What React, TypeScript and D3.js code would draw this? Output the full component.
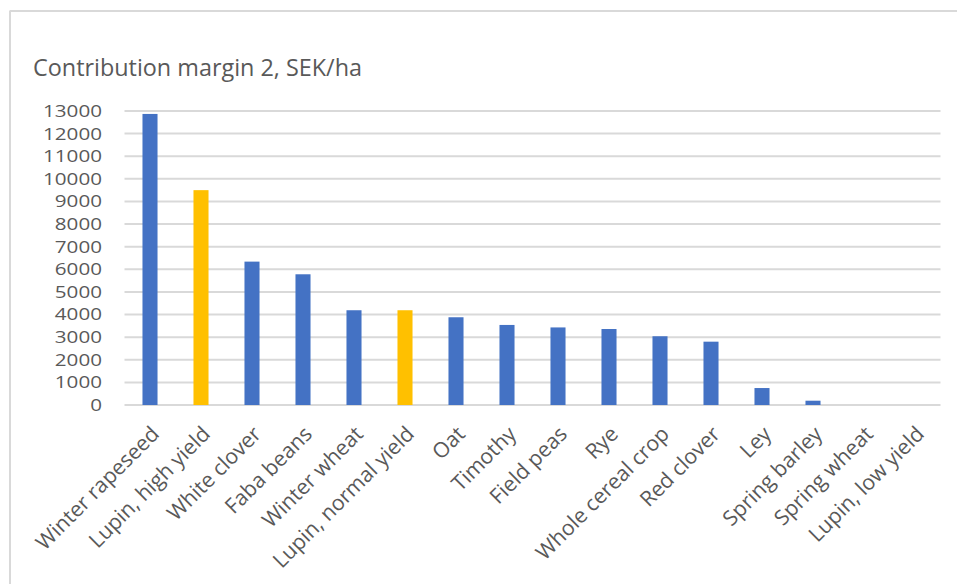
import React from "react";
import * as d3 from "d3";

const categories = [
  "Winter rapeseed",
  "Lupin, high yield",
  "White clover",
  "Faba beans",
  "Winter wheat",
  "Lupin, normal yield",
  "Oat",
  "Timothy",
  "Field peas",
  "Rye",
  "Whole cereal crop",
  "Red clover",
  "Ley",
  "Spring barley",
  "Spring wheat",
  "Lupin, low yield",
];
const values = [12870, 9500, 6340, 5780, 4190, 4190, 3880, 3540, 3430, 3360, 3040, 2800, 750, 190, 0, 0];
const highlighted = ["Lupin, high yield", "Lupin, normal yield", "Lupin, low yield"];
const yTicks = [0, 1000, 2000, 3000, 4000, 5000, 6000, 7000, 8000, 9000, 10000, 11000, 12000, 13000];
const title = "Contribution margin 2, SEK/ha";

const W = 957;
const H = 584;
const FONT = "'Open Sans', 'Noto Sans', sans-serif";

export default function App() {
  const x = d3.scaleBand<string>().domain(categories).range([124.5, 940.5]).paddingInner(0.705).paddingOuter(0.3525);
  const y = d3.scaleLinear().domain([0, 13000]).range([405, 111]);

  return (
    <svg
      width={W}
      height={H}
      style={{ position: "absolute", left: 0, top: 0, background: "#fff" }}
      fontFamily={FONT}
    >
      <rect x={0} y={0} width={W} height={H} fill="#fff" />
      {/* frame */}
      <line x1={9.5} y1={11} x2={W} y2={11} stroke="#D9D9D9" strokeWidth={2} />
      <line x1={10} y1={11} x2={10} y2={H} stroke="#D9D9D9" strokeWidth={2} />

      <text x={33} y={76} fontSize={23} fill="#595959" textLength={329} lengthAdjust="spacingAndGlyphs">
        {title}
      </text>

      {/* gridlines */}
      {yTicks.map((t) => (
        <line key={t} x1={124.5} x2={940.5} y1={y(t)} y2={y(t)} stroke="#D9D9D9" strokeWidth={2} />
      ))}
      {/* y tick labels */}
      {yTicks.map((t) => {
        const s = String(t);
        return (
          <text
            key={"l" + t}
            x={102}
            y={y(t)}
            dy="0.36em"
            textAnchor="end"
            fontSize={16.5}
            fill="#595959"
            textLength={s.length * 11.8}
            lengthAdjust="spacingAndGlyphs"
          >
            {s}
          </text>
        );
      })}

      {/* bars */}
      {categories.map((c, i) => (
        <rect
          key={c}
          x={x(c)!}
          y={y(values[i])}
          width={x.bandwidth()}
          height={y(0) - y(values[i])}
          fill={highlighted.includes(c) ? "#FFC000" : "#4472C4"}
        />
      ))}

      {/* x labels */}
      {categories.map((c) => {
        const cx = x(c)! + x.bandwidth() / 2 + 5;
        const cy = 430;
        return (
          <text
            key={"x" + c}
            transform={`translate(${cx},${cy}) rotate(-45)`}
            textAnchor="end"
            dy="0.36em"
            fontSize={21.2}
            fill="#595959"
          >
            {c}
          </text>
        );
      })}
    </svg>
  );
}
